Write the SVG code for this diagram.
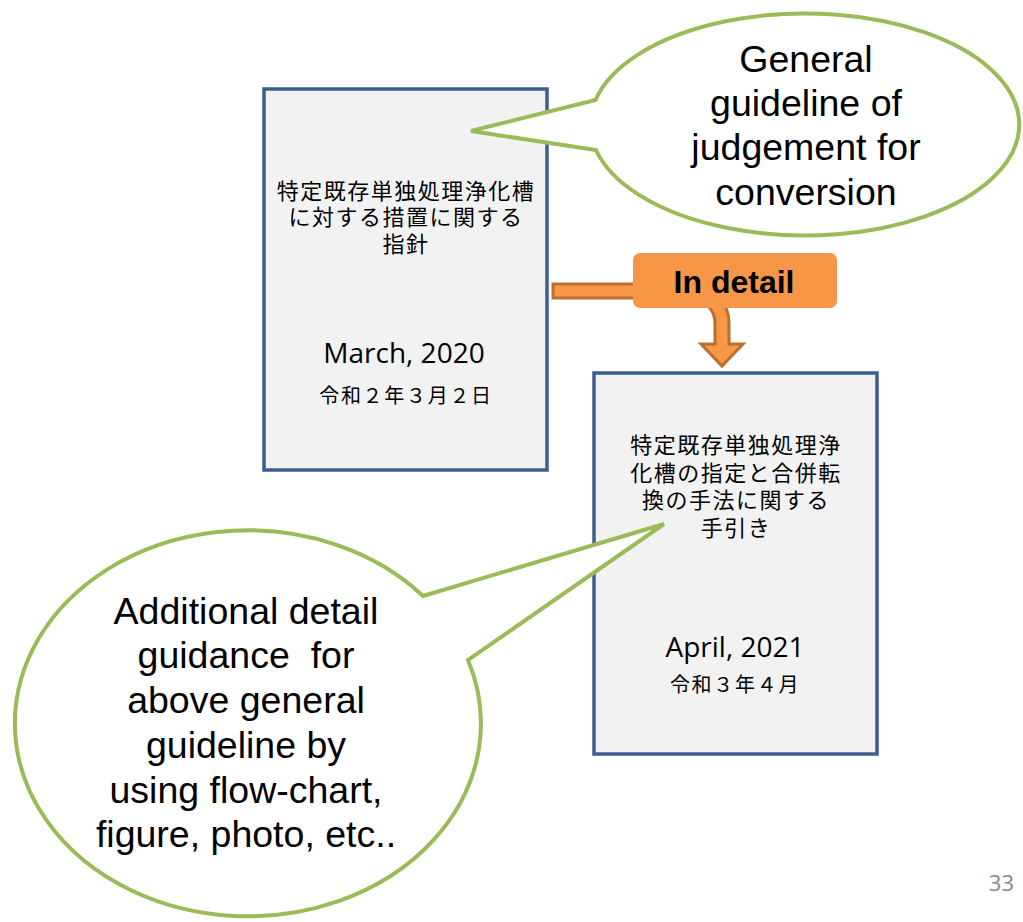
<svg xmlns="http://www.w3.org/2000/svg" width="1023" height="922" viewBox="0 0 1023 922">
<style>
.doc{fill:#f2f2f2;stroke:#3b5f8f;stroke-width:3.5}
.jp{font-family:"Noto Sans CJK JP","Noto Sans CJK SC",sans-serif;font-size:22px;letter-spacing:1.5px;fill:#000;text-anchor:middle}
.jpd{font-family:"Noto Sans CJK JP","Noto Sans CJK SC",sans-serif;font-size:20px;letter-spacing:1.7px;fill:#000;text-anchor:middle}
.date{font-family:"Open Sans","Noto Sans",sans-serif;font-size:28px;fill:#000;text-anchor:middle}
.call{fill:#fff;stroke:#9bbb59;stroke-width:4;stroke-linejoin:miter}
.ct{font-family:"Liberation Sans",Arial,sans-serif;font-size:37.5px;fill:#000;text-anchor:middle}
.arrow{fill:#f79646;stroke:#b8702f;stroke-width:3;stroke-linejoin:miter}
</style>
<rect width="1023" height="922" fill="#fff"/>

<g id="connectors">
  <path class="arrow" d="M553,284 L690,284 A39,39 0 0 1 729,323 L729,344 L743,344 L722,366 L701,344 L715,344 L715,323 A25,25 0 0 0 690,298 L553,298 Z"/>
</g>

<g id="doc2020">
  <rect class="doc" x="264" y="89" width="283" height="381"/>
  <text class="jp"><tspan x="406" y="199">特定既存単独処理浄化槽</tspan><tspan x="406" y="225">に対する措置に関する</tspan><tspan x="406" y="252">指針</tspan></text>
  <text class="date" x="404" y="363">March, 2020</text>
  <text class="jpd" x="406" y="403">令和２年３月２日</text>
</g>

<g id="doc2021">
  <rect class="doc" x="594" y="373" width="283" height="381"/>
  <text class="jp"><tspan x="736" y="453">特定既存単独処理浄</tspan><tspan x="736" y="481">化槽の指定と合併転</tspan><tspan x="736" y="508">換の手法に関する</tspan><tspan x="736" y="536">手引き</tspan></text>
  <text class="date" x="735" y="657">April, 2021</text>
  <text class="jpd" x="735" y="692">令和３年４月</text>
</g>

<g id="indetail">
  <rect x="633" y="253" width="204" height="55" rx="7" ry="7" fill="#f79646"/>
  <text x="734" y="293" font-family="Liberation Sans, Arial, sans-serif" font-size="32" font-weight="bold" text-anchor="middle" fill="#000">In detail</text>
</g>

<g id="callout-general">
  <path class="call" d="M595.5,100 L471,131 L596,150 A214.5,111 0 1 0 595.5,100 Z"/>
  <text class="ct"><tspan x="806" y="72">General</tspan><tspan x="806" y="116">guideline of</tspan><tspan x="806" y="160">judgement for</tspan><tspan x="806" y="205">conversion</tspan></text>
</g>

<g id="callout-detail">
  <path class="call" d="M423,596 L664,524 L468,660 A233,193 0 1 1 423,596 Z"/>
  <text class="ct" xml:space="preserve"><tspan x="246" y="624">Additional detail</tspan><tspan x="246" y="668">guidance  for</tspan><tspan x="246" y="713">above general</tspan><tspan x="246" y="758">guideline by</tspan><tspan x="246" y="803">using flow-chart,</tspan><tspan x="246" y="847">figure, photo, etc..</tspan></text>
</g>

<g id="page-number">
  <text x="1014" y="891" font-family="Open Sans, Noto Sans, sans-serif" font-size="22" fill="#898989" text-anchor="end">33</text>
</g>
</svg>
